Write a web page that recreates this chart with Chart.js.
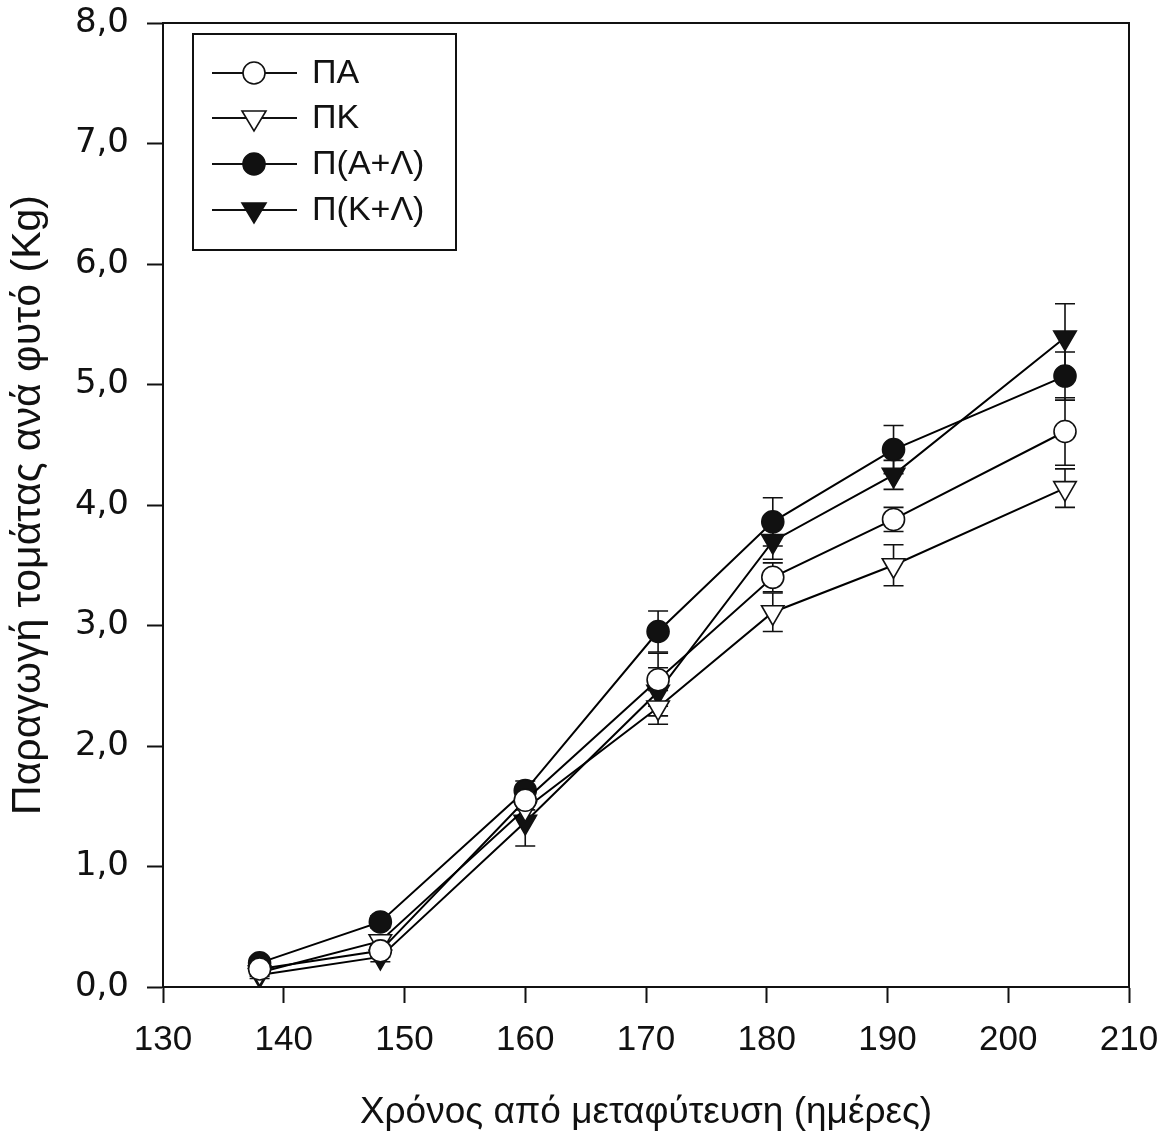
<!DOCTYPE html>
<html>
<head>
<meta charset="utf-8">
<script src="https://cdn.jsdelivr.net/npm/chart.js@4/dist/chart.umd.min.js"></script>
<style>
  body { margin: 0; background: #fff; }
  #wrap { width: 1165px; height: 1135px; }
</style>
</head>
<body>
<div id="wrap"><canvas id="myChart"></canvas></div>
<script>
// days after transplanting
var days = [138, 148, 160, 171, 180.5, 190.5, 204.7];

var paVals = [0.15, 0.30, 1.55, 2.55, 3.40, 3.88, 4.61];
var paErr = [0.03, 0.05, 0.08, 0.22, 0.12, 0.10, 0.28];

var pkVals = [0.12, 0.38, 1.48, 2.32, 3.11, 3.50, 4.14];
var pkErr = [0.03, 0.05, 0.08, 0.14, 0.16, 0.17, 0.16];

var palVals = [0.20, 0.54, 1.63, 2.95, 3.86, 4.46, 5.07];
var palErr = [0.04, 0.05, 0.08, 0.17, 0.20, 0.20, 0.20];

var pklVals = [0.10, 0.25, 1.37, 2.45, 3.70, 4.25, 5.39];
var pklErr = [0.03, 0.04, 0.20, 0.20, 0.15, 0.12, 0.28];

var seriesNames = ['ΠΑ', 'ΠΚ', 'Π(Α+Λ)', 'Π(Κ+Λ)'];
var xTicks = [130, 140, 150, 160, 170, 180, 190, 200, 210];

function toPoints(vals) {
    return vals.map((v, i) => ({ x: days[i], y: v }));
}

function makeSet(name, vals, err, style, filled, rot) {
    return {
        label: name,
        data: toPoints(vals),
        err: err,
        borderColor: '#000',
        borderWidth: 2,
        pointStyle: style,
        pointRotation: rot,
        pointRadius: style == 'circle' ? 11 : 13,
        pointBackgroundColor: filled ? '#111' : '#fff',
        pointBorderColor: '#111',
        pointBorderWidth: 1.6,
        fill: false,
        tension: 0
    };
}

// error bars, frame and legend
var errorBars = {
    id: 'errorBars',
    beforeDatasetsDraw(chart) {
        var ctx = chart.ctx;
        var xs = chart.scales.x, ys = chart.scales.y;
        ctx.save();
        ctx.strokeStyle = '#111';
        ctx.lineWidth = 1.6;
        chart.data.datasets.forEach((ds) => {
            ds.data.forEach((p, i) => {
                var px = xs.getPixelForValue(p.x);
                var top = ys.getPixelForValue(p.y + ds.err[i]);
                var bot = ys.getPixelForValue(p.y - ds.err[i]);
                ctx.beginPath();
                ctx.moveTo(px, top); ctx.lineTo(px, bot);
                ctx.moveTo(px - 10, top); ctx.lineTo(px + 10, top);
                ctx.moveTo(px - 10, bot); ctx.lineTo(px + 10, bot);
                ctx.stroke();
            });
        });
        ctx.restore();
    },
    afterDraw(chart) {
        var ctx = chart.ctx;
        var a = chart.chartArea;
        ctx.save();
        ctx.strokeStyle = '#111';
        ctx.lineWidth = 2;
        ctx.strokeRect(a.left, a.top, a.right - a.left, a.bottom - a.top);

        // legend box
        var lx = 193, ly = 34, lw = 263, lh = 216;
        ctx.strokeRect(lx, ly, lw, lh);
        var rows = [73, 118, 164, 210];
        ctx.font = '34px "Liberation Sans", Arial, sans-serif';
        ctx.textBaseline = 'middle';
        chart.data.datasets.forEach((ds, i) => {
            var y = rows[i];
            ctx.strokeStyle = '#111';
            ctx.beginPath();
            ctx.lineWidth = 2;
            ctx.moveTo(212, y); ctx.lineTo(297, y);
            ctx.stroke();
            ctx.fillStyle = ds.pointBackgroundColor;
            ctx.lineWidth = 1.6;
            ctx.beginPath();
            if (ds.pointStyle == 'circle') {
                ctx.arc(254, y, 11, 0, Math.PI * 2);
            } else {
                ctx.moveTo(254 - 12, y - 7);
                ctx.lineTo(254 + 12, y - 7);
                ctx.lineTo(254, y + 13);
                ctx.closePath();
            }
            ctx.fill();
            ctx.stroke();
            ctx.fillStyle = '#111';
            ctx.fillText(seriesNames[i], 312, y + 1);
        });
        ctx.restore();
    }
};

var ctx = document.getElementById('myChart').getContext('2d');
var myChart = new Chart(ctx, {
    type: 'line',
    data: {
        datasets: [
            makeSet(seriesNames[0], paVals, paErr, 'circle', false, 0),
            makeSet(seriesNames[1], pkVals, pkErr, 'triangle', false, 180),
            makeSet(seriesNames[2], palVals, palErr, 'circle', true, 0),
            makeSet(seriesNames[3], pklVals, pklErr, 'triangle', true, 180)
        ]
    },
    options: {
        responsive: true,
        maintainAspectRatio: false,
        animation: false,
        layout: { padding: { top: 23, right: 36, left: 0, bottom: 0 } },
        plugins: {
            legend: { display: false },
            tooltip: { enabled: false }
        },
        scales: {
            x: {
                type: 'linear',
                min: 130,
                max: 210,
                afterBuildTicks: (axis) => { axis.ticks = xTicks.map((v) => ({ value: v })); },
                afterFit: (axis) => {
                    axis.height = 148;
                    axis.paddingLeft = 0;
                    axis.paddingRight = 0;
                },
                grid: {
                    drawOnChartArea: false,
                    tickLength: 16,
                    tickWidth: 2,
                    tickColor: '#111'
                },
                border: { color: '#111', width: 2 },
                ticks: {
                    padding: 16,
                    color: '#111',
                    maxRotation: 0,
                    font: { family: '"Liberation Sans Narrow", "Liberation Sans", Arial', size: 35 }
                },
                title: {
                    display: true,
                    text: 'Χρόνος από μεταφύτευση (ημέρες)',
                    color: '#111',
                    padding: { top: 14, bottom: 0 },
                    font: { family: '"Liberation Sans Narrow", "Liberation Sans", Arial', size: 37 }
                }
            },
            y: {
                min: 0,
                max: 8,
                afterFit: (axis) => {
                    axis.width = 163;
                    axis.paddingTop = 0;
                    axis.paddingBottom = 0;
                },
                grid: {
                    drawOnChartArea: false,
                    tickLength: 16,
                    tickWidth: 2,
                    tickColor: '#111'
                },
                border: { color: '#111', width: 2 },
                ticks: {
                    stepSize: 1,
                    padding: 18,
                    color: '#111',
                    font: { family: '"DejaVu Sans", Verdana, sans-serif', size: 34 },
                    callback: (v) => v.toFixed(1).replace('.', ',')
                },
                title: {
                    display: true,
                    text: 'Παραγωγή τομάτας ανά φυτό (Kg)',
                    color: '#111',
                    padding: { top: 4, bottom: 2 },
                    font: { family: '"Liberation Sans Narrow", "Liberation Sans", Arial', size: 41 }
                }
            }
        }
    },
    plugins: [errorBars]
});
</script>
</body>
</html>
